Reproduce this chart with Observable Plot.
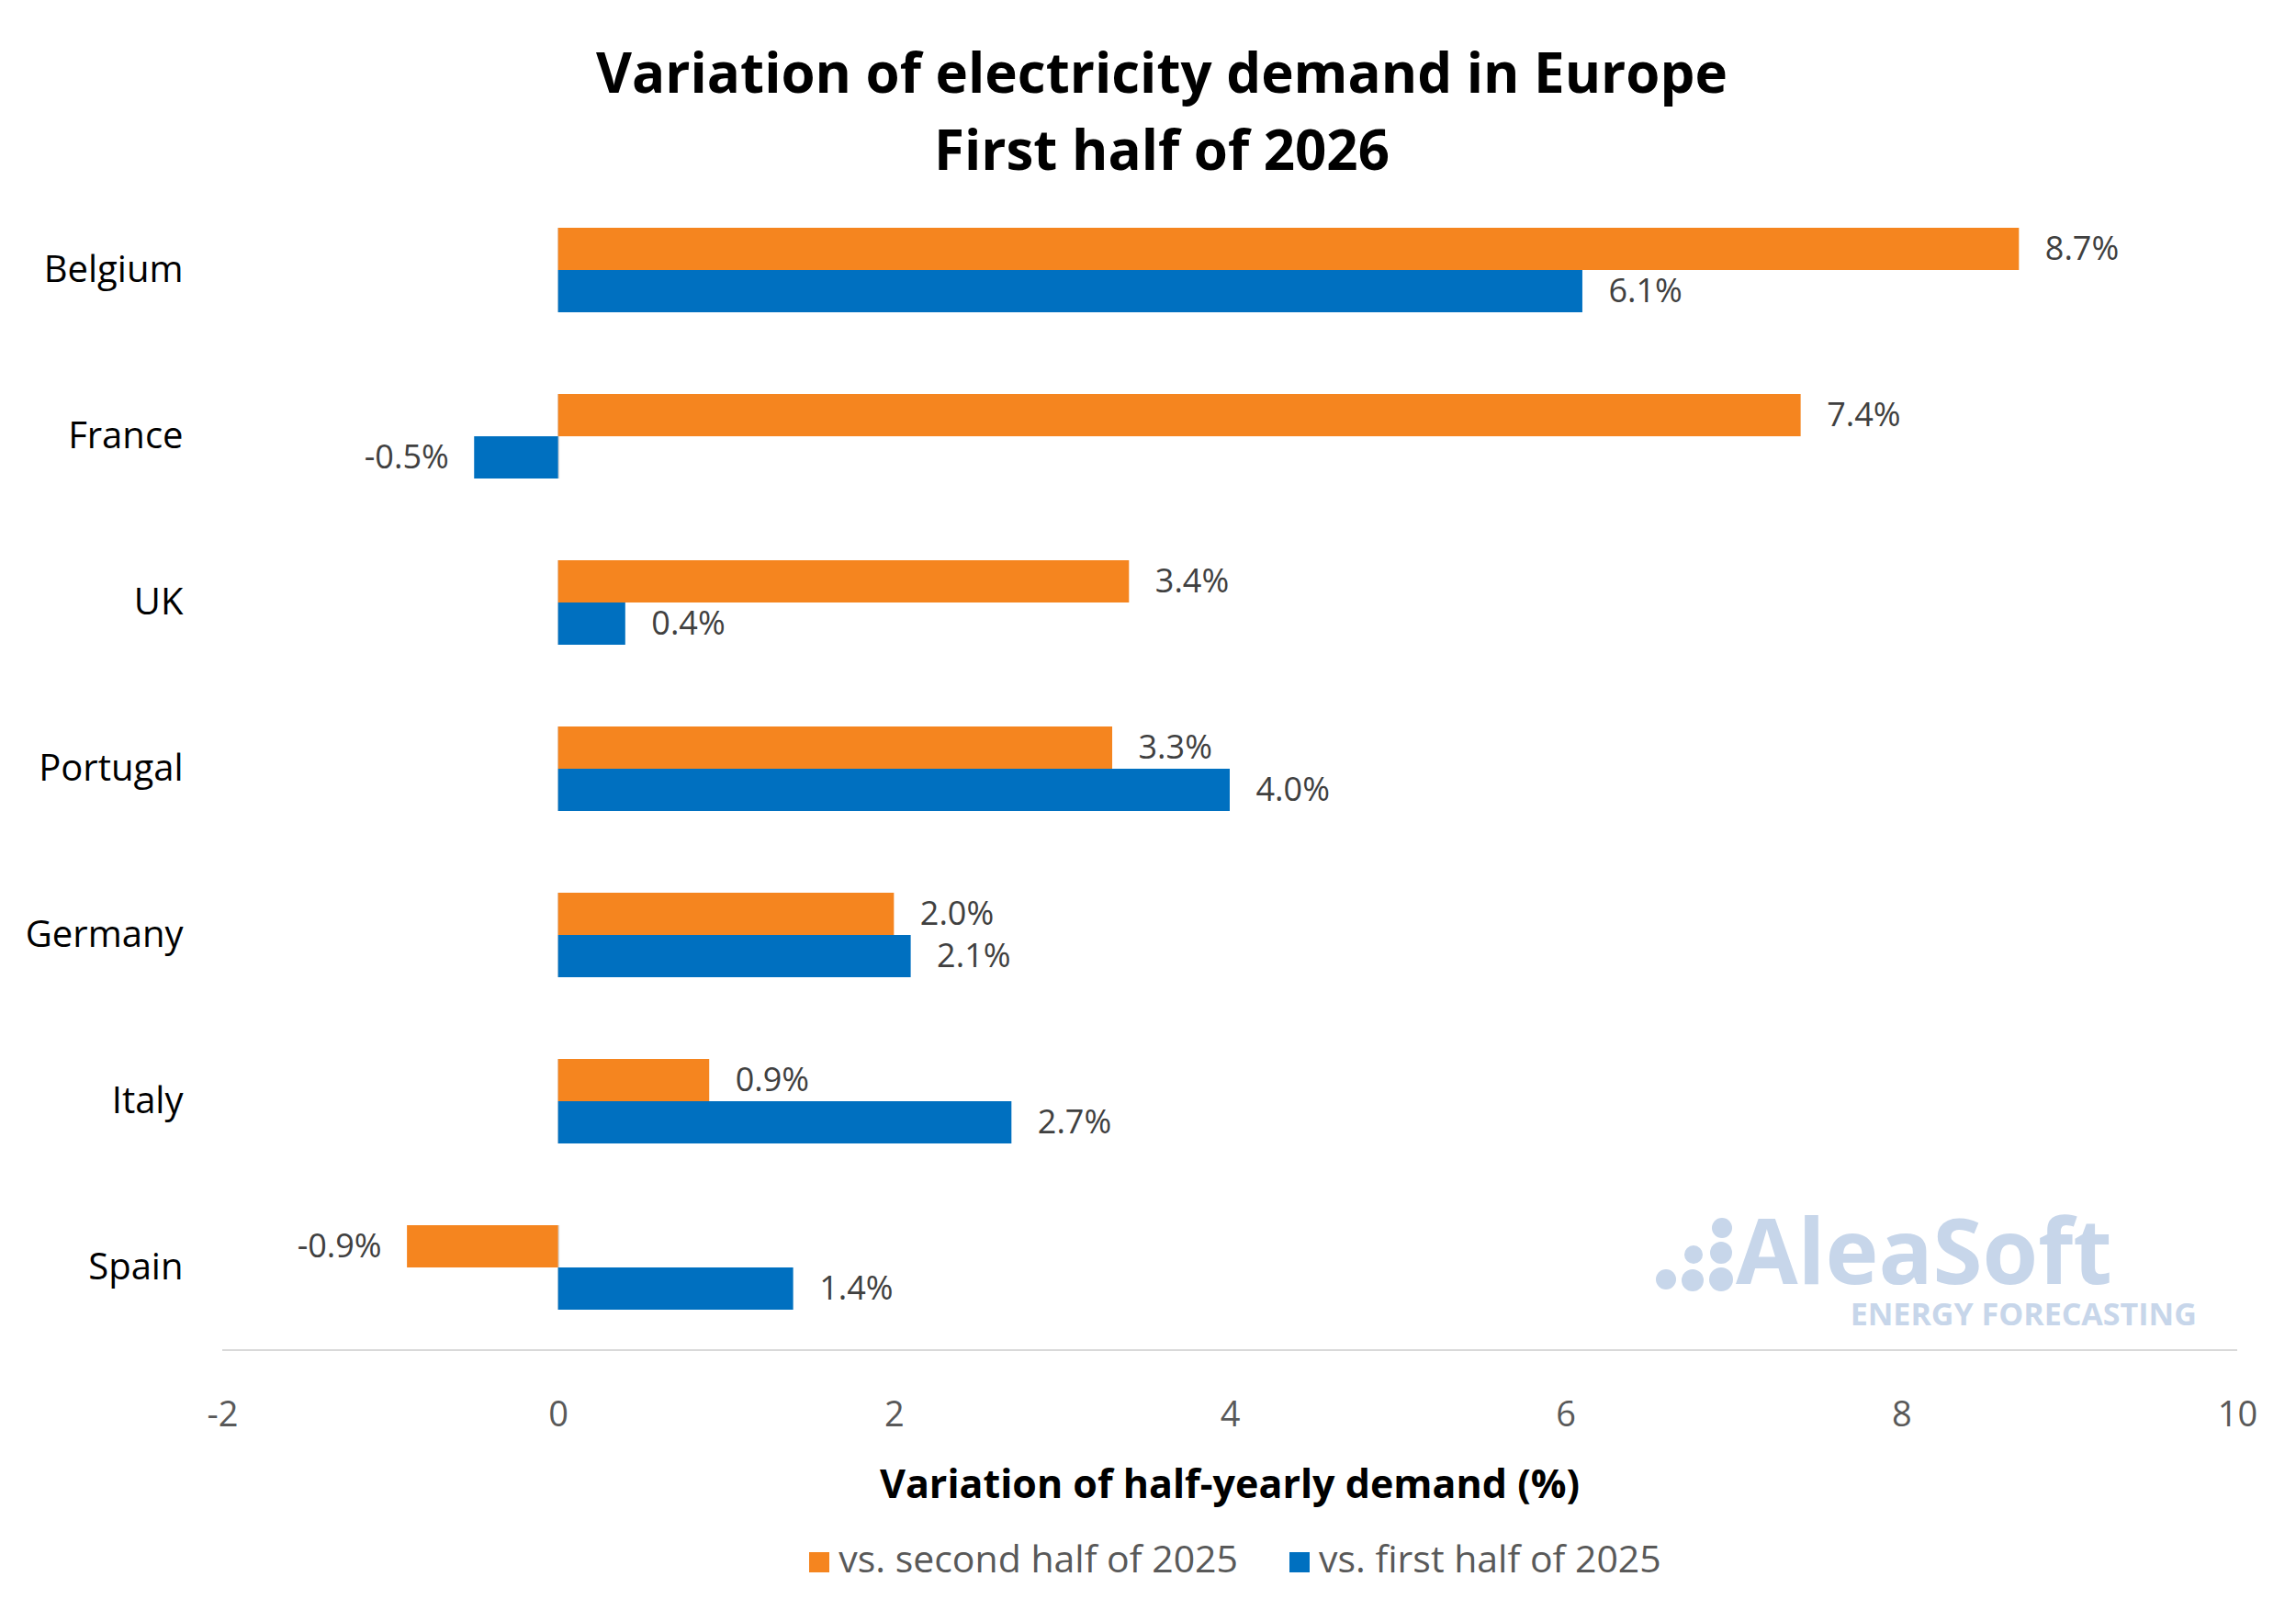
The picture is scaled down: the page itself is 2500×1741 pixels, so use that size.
<!DOCTYPE html>
<html><head><meta charset="utf-8">
<script src="https://cdn.jsdelivr.net/npm/d3@7"></script>
<script src="https://cdn.jsdelivr.net/npm/@observablehq/plot@0.6"></script>
<style>
body{margin:0;background:#fff;font-family:"Open Sans",sans-serif;width:2500px;height:1741px;position:relative;overflow:hidden}
#title{position:absolute;top:36px;left:0;width:2530px;text-align:center;font-weight:700;font-size:60px;line-height:84px;color:#000}
#chart{position:absolute;top:190px;left:0}
#axisline{position:absolute;top:1469px;left:242px;width:2194px;height:2px;background:#d9d9d9}
#xt{position:absolute;top:1585px;left:242px;width:2194px;text-align:center;font-weight:700;font-size:43px;color:#000}
#legend{position:absolute;top:1668px;left:70px;width:2550px;text-align:center;font-size:41px;color:#595959}
#legend span{display:inline-block;margin:0 28px}
#legend i{display:inline-block;width:22px;height:22px;margin-right:10px}
#wm{position:absolute;left:1800px;top:1312px;color:#c7d6ea;font-weight:700}
.dot{position:absolute;border-radius:50%;background:#c7d6ea}
</style></head><body>
<div id="title">Variation of electricity demand in Europe<br>First half of 2026</div>
<div id="chart"></div>
<div id="axisline"></div>
<div id="xt">Variation of half-yearly demand (%)</div>
<div id="legend"><span><i style="background:#F5851F"></i>vs. second half of 2025</span><span><i style="background:#0070C0"></i>vs. first half of 2025</span></div>
<div id="wm"><div style="font-size:98px;line-height:96px;padding-left:90px">AleaSoft</div><div style="font-size:34px;line-height:40px;text-align:right;margin-right:-92px;margin-top:2px">ENERGY FORECASTING</div></div>
<div class="dot" style="left:1803px;top:1382px;width:22px;height:22px"></div>
<div class="dot" style="left:1831px;top:1382px;width:24px;height:24px"></div>
<div class="dot" style="left:1861px;top:1380px;width:26px;height:26px"></div>
<div class="dot" style="left:1834px;top:1356px;width:20px;height:20px"></div>
<div class="dot" style="left:1862px;top:1352px;width:24px;height:24px"></div>
<div class="dot" style="left:1864px;top:1326px;width:22px;height:22px"></div>
<script>
const countries=["Belgium","France","UK","Portugal","Germany","Italy","Spain"];
const vsSecond2025=[8.7,7.4,3.4,3.3,2.0,0.9,-0.9];
const vsFirst2025=[6.1,-0.5,0.4,4.0,2.1,2.7,1.4];
const seriesNames=["vs. second half of 2025","vs. first half of 2025"];
const xTicks=[-2,0,2,4,6,8,10];
const data=[];
countries.forEach((c,i)=>{
  data.push({country:c,series:seriesNames[0],v:vsSecond2025[i]});
  data.push({country:c,series:seriesNames[1],v:vsFirst2025[i]});
});
const fmt=v=>v.toFixed(1)+"%";
const p=Plot.plot({
  width:2500,height:1460,marginTop:14,marginBottom:180,marginLeft:242,marginRight:64,
  style:{fontFamily:"'Open Sans',sans-serif",background:"transparent"},
  x:{domain:[-2,10],ticks:xTicks,label:null},
  y:{domain:seriesNames,padding:0,axis:null},
  fy:{domain:countries,paddingInner:0.49,paddingOuter:0.24,label:null},
  color:{domain:seriesNames,range:["#F5851F","#0070C0"]},
  marks:[
    Plot.ruleX([0],{stroke:"#d9d9d9",strokeWidth:2}),
    Plot.barX(data,{fy:"country",y:"series",x:"v",fill:"series"}),
    Plot.text(data.filter(d=>d.v>=0),{fy:"country",y:"series",x:"v",text:d=>fmt(d.v),textAnchor:"start",dx:28,fontSize:36,fill:"#404040"}),
    Plot.text(data.filter(d=>d.v<0),{fy:"country",y:"series",x:"v",text:d=>fmt(d.v),textAnchor:"end",dx:-28,fontSize:36,fill:"#404040"}),
    Plot.axisFy({anchor:"left",tickSize:0,tickPadding:43,fontSize:40,color:"#000",label:null}),
    Plot.axisX({ticks:xTicks,tickFormat:d=>String(d),tickSize:0,tickPadding:100,fontSize:38,color:"#595959",label:null,facetAnchor:"bottom"})
  ]
});
document.getElementById("chart").appendChild(p);
</script></body></html>
